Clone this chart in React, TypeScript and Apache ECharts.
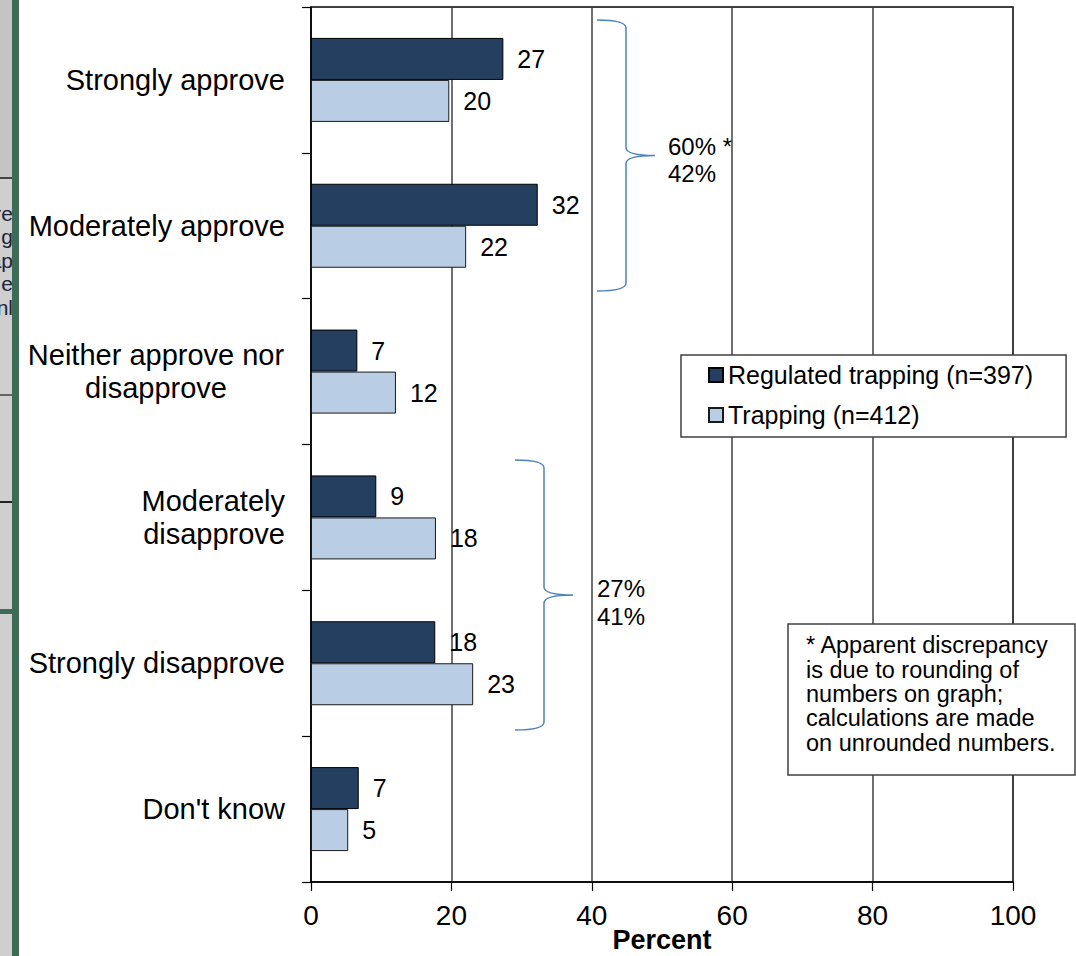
import React, { useEffect, useRef } from "react";
import * as echarts from "echarts";

const categories = [
  "Strongly approve",
  "Moderately approve",
  "Neither approve nor\ndisapprove",
  "Moderately\ndisapprove",
  "Strongly disapprove",
  "Don't know",
];
const regulatedTrapping = [27.4, 32.3, 6.6, 9.3, 17.7, 6.8];
const trapping = [19.7, 22.1, 12.1, 17.8, 23.1, 5.3];
const seriesNames = ["Regulated trapping (n=397)", "Trapping (n=412)"];
const xTicks = [0, 20, 40, 60, 80, 100];
const approveTotals = ["60% *", "42%"];
const disapproveTotals = ["27%", "41%"];
const footnoteLines = [
  "* Apparent discrepancy",
  "is due to rounding of",
  "numbers on graph;",
  "calculations are made",
  "on unrounded numbers.",
];
const sideFragments = ["re", "g", "ap", "e", "nl"];

const FONT = "'Liberation Sans', Arial, sans-serif";

function braceD(w: number, h: number, r: number): string {
  const m = h / 2;
  return `M0,0 Q${w},0 ${w},${r} L${w},${m - r} Q${w},${m} ${2 * w},${m} Q${w},${m} ${w},${m + r} L${w},${h - r} Q${w},${h} 0,${h}`;
}

export default function App() {
  const ref = useRef<HTMLDivElement>(null);
  useEffect(() => {
    if (!ref.current) return;
    echarts.graphic.registerShape("braceTop", echarts.graphic.extendPath(braceD(29, 271, 8), {}));
    echarts.graphic.registerShape("braceBottom", echarts.graphic.extendPath(braceD(29, 270, 8), {}));
    const chart = echarts.init(ref.current, null, { renderer: "svg" });
    const braceStyle = { stroke: "#4f81bd", fill: "none", lineWidth: 1.5 };
    const labelFmt = (p: any) => String(Math.round(p.value));
    chart.setOption({
      animation: false,
      backgroundColor: "#ffffff",
      textStyle: { fontFamily: FONT },
      grid: {
        left: 311,
        right: 63,
        top: 7,
        bottom: 74,
        outerBoundsMode: "none",
        containLabel: false,
        show: true,
        borderColor: "#000",
        borderWidth: 1.5,
        backgroundColor: "transparent",
      },
      legend: {
        orient: "vertical",
        left: 681,
        top: 355,
        data: seriesNames,
        itemWidth: 14,
        itemHeight: 14,
        itemGap: 10,
        padding: [5, 33, 7, 27],
        backgroundColor: "#fff",
        borderColor: "#404040",
        borderWidth: 1.5,
        borderRadius: 0,
        icon: "rect",
        textStyle: { fontSize: 25, color: "#000", fontFamily: FONT, lineHeight: 30 },
      },
      xAxis: {
        type: "value",
        min: 0,
        max: 100,
        interval: 20,
        name: "Percent",
        nameLocation: "middle",
        nameGap: 44,
        nameMoveOverlap: false,
        nameTextStyle: { fontSize: 27, fontWeight: "bold", color: "#000", fontFamily: FONT },
        axisLine: { show: true, lineStyle: { color: "#000", width: 1.5 } },
        axisTick: { show: true, length: 9, lineStyle: { color: "#000", width: 1.2 } },
        axisLabel: {
          fontSize: 28,
          color: "#000",
          margin: 19,
          fontFamily: FONT,
          formatter: (v: number) => (xTicks.includes(v) ? String(v) : ""),
        },
        splitLine: { show: true, lineStyle: { color: "#404040", width: 1.5 } },
      },
      yAxis: {
        type: "category",
        inverse: true,
        data: categories,
        axisLine: { show: true, lineStyle: { color: "#000", width: 1.5 } },
        axisTick: { show: true, length: 9, alignWithLabel: false, lineStyle: { color: "#000", width: 1.2 } },
        axisLabel: {
          fontSize: 29,
          color: "#000",
          margin: 26,
          fontFamily: FONT,
          lineHeight: 33,
          formatter: (v: string) => {
            if (v.startsWith("Neither")) {
              return v
                .split("\n")
                .map((s) => `{c|${s}}`)
                .join("\n");
            }
            return v;
          },
          rich: {
            c: { width: 258, align: "center", fontSize: 29, lineHeight: 33, color: "#000", fontFamily: FONT },
          },
        },
        splitLine: { show: false },
      },
      series: [
        {
          name: seriesNames[0],
          type: "bar",
          data: regulatedTrapping,
          barWidth: 42,
          barGap: "0%",
          itemStyle: { color: "#243f60", borderColor: "#000", borderWidth: 1 },
          label: {
            show: true,
            position: "right",
            distance: 14,
            fontSize: 25,
            color: "#000",
            fontFamily: FONT,
            formatter: labelFmt,
          },
        },
        {
          name: seriesNames[1],
          type: "bar",
          data: trapping,
          barWidth: 42,
          barGap: "0%",
          itemStyle: { color: "#b9cde5", borderColor: "#1a1a1a", borderWidth: 1 },
          label: {
            show: true,
            position: "right",
            distance: 14,
            fontSize: 25,
            color: "#000",
            fontFamily: FONT,
            formatter: labelFmt,
          },
        },
      ],
      graphic: [
        // left page-edge strip from the source document
        { type: "rect", x: 0, y: 0, shape: { width: 13, height: 178 }, style: { fill: "#c4c4c4" }, z: 10 },
        { type: "rect", x: 0, y: 178, shape: { width: 13, height: 778 }, style: { fill: "#cfcfcf" }, z: 10 },
        ...sideFragments.map((t, i) => ({
          type: "text",
          x: 13,
          y: 213 + i * 23.5,
          style: {
            text: t,
            fill: "#1b2340",
            font: `21px ${FONT}`,
            textAlign: "right",
            textVerticalAlign: "middle",
          },
          z: 11,
        })),
        { type: "rect", x: 0, y: 177, shape: { width: 13, height: 2 }, style: { fill: "#444" }, z: 11 },
        { type: "rect", x: 0, y: 394, shape: { width: 13, height: 2 }, style: { fill: "#666" }, z: 11 },
        { type: "rect", x: 0, y: 501, shape: { width: 13, height: 2 }, style: { fill: "#222" }, z: 11 },
        { type: "rect", x: 0, y: 609, shape: { width: 13, height: 5 }, style: { fill: "#3e6b58" }, z: 11 },
        { type: "rect", x: 12, y: 0, shape: { width: 7, height: 956 }, style: { fill: "#3e6b58" }, z: 12 },
        // braces
        { type: "braceTop", x: 597, y: 20, style: braceStyle, z: 20 },
        { type: "braceBottom", x: 515, y: 460, style: braceStyle, z: 20 },
        {
          type: "text",
          x: 668,
          y: 160,
          style: {
            text: approveTotals.join("\n"),
            font: `24px ${FONT}`,
            lineHeight: 27,
            fill: "#000",
            textVerticalAlign: "middle",
          },
          z: 20,
        },
        {
          type: "text",
          x: 597,
          y: 602,
          style: {
            text: disapproveTotals.join("\n"),
            font: `24px ${FONT}`,
            lineHeight: 28,
            fill: "#000",
            textVerticalAlign: "middle",
          },
          z: 20,
        },
        // footnote box
        {
          type: "rect",
          x: 788,
          y: 624,
          shape: { width: 287, height: 151 },
          style: { fill: "#fff", stroke: "#404040", lineWidth: 1.5 },
          z: 20,
        },
        {
          type: "text",
          x: 806,
          y: 633,
          style: {
            text: footnoteLines.join("\n"),
            font: `23.5px ${FONT}`,
            lineHeight: 24.4,
            fill: "#000",
          },
          z: 21,
        },
      ],
    });
    return () => chart.dispose();
  }, []);
  return (
    <div
      ref={ref}
      style={{ position: "fixed", left: 0, top: 0, width: 1076, height: 956, background: "#fff" }}
    />
  );
}
